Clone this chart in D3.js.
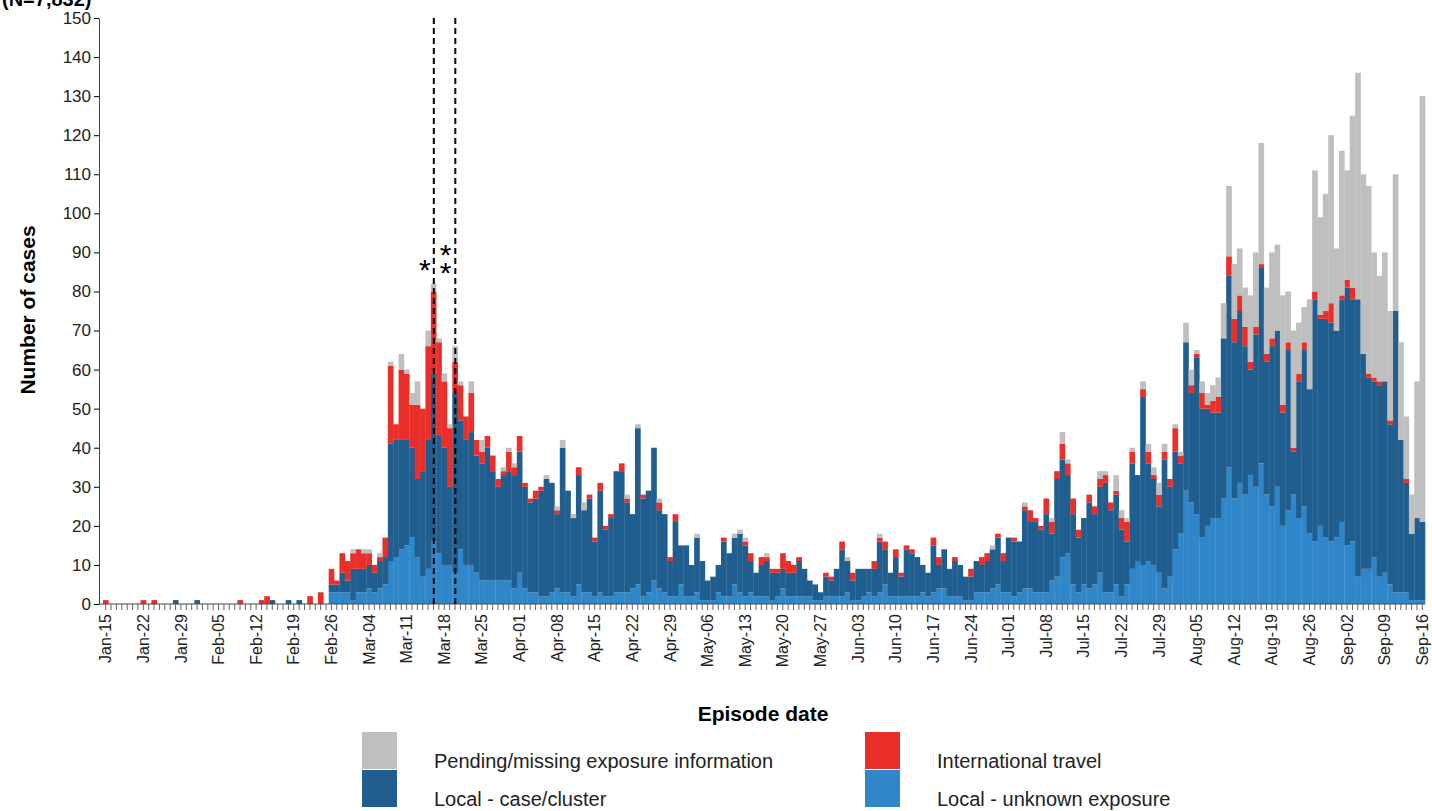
<!DOCTYPE html>
<html>
<head>
<meta charset="utf-8">
<script src="https://cdn.jsdelivr.net/npm/d3@7"></script>
<style>
  body { margin: 0; background: #fff; }
  text { font-family: "Liberation Sans", Arial, sans-serif; }
</style>
</head>
<body>
<svg id="chart" width="1432" height="811"></svg>
<script>
// daily counts, Jan-15 .. Sep-16 (246 days), one row per week, stacked bottom to top
var unknown = [
  0,0,0,0,0,0,0, 0,0,0,0,0,0,0, 0,0,0,0,0,0,0, 0,0,0,0,0,0,0, 0,0,0,0,0,0,0, 0,0,0,0,0,0,0,
  3,3,3,3,1,3,3,
  4,3,4,5,11,12,14,
  15,17,12,7,9,16,13,
  10,10,8,14,10,10,8,
  6,6,6,6,6,6,4,
  8,4,3,3,2,2,3,
  4,3,3,2,5,3,3,
  2,3,2,2,3,3,3,
  4,5,2,3,6,4,3,
  2,2,5,2,2,3,1,
  1,1,3,2,2,5,3,
  2,3,2,2,2,1,2,
  4,2,2,2,2,2,1,
  1,2,2,2,2,3,1,
  1,2,3,2,3,5,2,
  2,2,2,2,2,3,2,
  3,4,4,2,2,2,1,
  1,3,3,3,4,5,3,
  3,2,3,4,4,3,3,
  3,6,7,12,13,5,3,
  5,4,5,8,3,3,5,
  2,5,9,11,10,11,10,
  8,4,7,14,18,29,26,
  23,17,20,22,22,27,35,
  27,31,28,33,30,36,28,
  25,30,20,24,28,22,25,
  18,16,20,17,16,17,21,
  15,16,7,9,9,12,7,
  8,5,3,3,3,1,1,
  1
];
var cluster = [
  0,0,0,0,0,0,0,
  0,0,0,0,0,0,1,
  0,0,0,1,0,0,0,
  0,0,0,0,0,0,0,
  0,0,0,1,0,0,1,
  0,1,0,0,0,0,0,
  2,2,5,3,8,6,6,
  6,5,7,7,30,30,28,
  27,23,20,27,33,43,30,
  30,20,46,33,32,34,30,
  30,34,28,24,27,28,29,
  31,26,23,24,27,30,28,
  19,37,26,20,28,21,24,
  14,26,17,20,31,31,23,
  19,40,25,26,34,20,20,
  9,19,10,13,8,14,10,
  5,6,7,14,11,12,15,
  13,8,6,8,9,7,6,
  5,6,6,9,7,4,4,
  2,5,4,7,12,8,5,
  8,7,6,7,13,9,6,
  10,5,12,11,10,7,6,
  12,6,10,7,9,8,6,
  6,8,7,8,10,12,8,
  14,14,13,20,17,18,16,
  20,12,25,25,20,18,14,
  17,22,18,22,28,21,23,
  17,11,27,22,43,25,22,
  17,33,23,25,18,38,28,
  40,33,30,27,27,41,49,
  40,44,38,27,39,50,34,
  41,40,29,41,11,35,40,
  37,62,53,56,56,53,57,
  66,62,71,55,49,45,49,
  49,41,72,39,28,17,21,
  20
];
var travel = [
  1,0,0,0,0,0,0,
  1,0,1,0,0,0,0,
  0,0,0,0,0,0,0,
  0,0,0,0,1,0,0,
  0,1,2,0,0,0,0,
  0,0,0,2,0,3,0,
  4,1,5,5,4,5,4,
  3,2,1,5,20,4,18,
  17,11,19,16,24,21,24,
  17,15,8,9,6,10,4,
  3,3,4,2,1,5,2,
  4,1,1,2,1,0,0,
  1,0,0,0,2,0,1,
  1,2,1,1,0,2,1,
  0,0,1,0,0,2,0,
  1,2,0,0,0,0,0,
  0,0,0,1,0,0,0,
  1,2,0,2,1,1,1,
  4,3,2,1,0,0,0,
  0,1,1,0,2,0,2,
  0,0,0,2,1,2,0,
  2,1,1,1,0,0,0,
  2,2,0,0,1,0,0,
  2,0,2,2,0,1,2,
  0,1,0,1,3,1,1,
  4,3,2,4,3,4,2,
  0,2,2,2,2,2,1,
  3,5,3,0,2,3,1,
  3,2,2,6,2,0,2,
  1,4,1,3,4,0,5,
  6,4,5,2,2,1,2,
  2,0,2,2,1,2,2,
  0,2,1,2,5,0,1,
  2,3,0,0,1,1,1,
  0,1,0,0,1,0,0,
  0
];
var pending = [
  0,0,0,0,0,0,0, 0,0,0,0,0,0,0, 0,0,0,0,0,0,0, 0,0,0,0,0,0,0, 0,0,0,0,0,0,0, 0,0,0,0,0,0,0,
  0,0,0,0,1,0,1,
  1,0,1,0,1,0,4,
  1,3,6,0,4,2,1,
  2,1,4,1,0,3,0,
  3,0,0,0,1,1,1,
  0,0,0,0,0,1,0,
  1,2,0,1,0,2,0,
  0,0,0,0,0,0,1,
  0,1,0,0,0,1,0,
  0,0,0,0,0,1,0,
  0,0,0,0,0,1,1,
  1,0,0,0,1,0,0,
  0,0,0,0,0,0,0,
  0,0,0,0,0,1,0,
  0,0,0,0,1,0,0,
  0,0,0,0,0,0,0,
  0,0,0,0,0,0,0,
  0,0,0,0,1,0,0,
  0,0,0,1,0,0,0,
  0,1,0,3,1,0,0,
  0,0,0,2,1,0,4,
  2,1,1,0,2,2,2,
  3,2,0,1,1,5,4,
  1,3,3,4,5,9,18,
  14,12,10,17,19,31,17,
  22,22,28,13,30,13,9,
  23,31,25,30,43,21,37,
  28,44,58,46,48,32,27,
  33,28,35,25,16,10,35,
  109
];
var startDate = new Date(2020, 0, 15);
var categories = unknown.map((d, i) => d3.timeDay.offset(startDate, i));

var seriesKeys = ["unknown", "cluster", "travel", "pending"];
var seriesColors = { unknown: "#2f86c8", cluster: "#1f5e8e", travel: "#ea2e2a", pending: "#bfbfbf" };
var yTicks = d3.range(0, 151, 10);
var fmt = d3.timeFormat("%b-%d");

var svg = d3.select("#chart");

var rows = categories.map((d, i) => ({
  date: d, unknown: unknown[i], cluster: cluster[i], travel: travel[i], pending: pending[i]
}));

var x = d3.scaleBand().domain(d3.range(categories.length)).range([103, 1425]).paddingInner(0);
var y = d3.scaleLinear().domain([0, 150]).range([604, 18]);

var stack = d3.stack().keys(seriesKeys)(rows);

svg.append("g").selectAll("g").data(stack).join("g")
  .attr("fill", s => seriesColors[s.key])
  .selectAll("rect").data(s => s.map((v, i) => [v, i])).join("rect")
  .attr("x", d => x(d[1]))
  .attr("width", x.bandwidth() + 0.3)
  .attr("y", d => y(d[0][1]))
  .attr("height", d => y(d[0][0]) - y(d[0][1]));

// y axis
var yAxis = svg.append("g").attr("transform", "translate(99,0)")
  .call(d3.axisLeft(y).tickValues(yTicks).tickSize(5).tickSizeOuter(0));
yAxis.selectAll("text").attr("font-size", 17).attr("fill", "#222");
yAxis.select(".domain").attr("stroke", "#444");

// x axis: a tick per day, label each week
var xAxis = svg.append("g").attr("transform", "translate(0,604)")
  .call(d3.axisBottom(x).tickSize(6).tickSizeOuter(0)
    .tickFormat(i => i % 7 === 0 ? fmt(categories[i]) : ""));
xAxis.select(".domain").attr("stroke", "#444").attr("d", "M99,0H1425");
xAxis.selectAll(".tick line").attr("stroke", "#666");
xAxis.selectAll("text")
  .attr("font-size", 16).attr("fill", "#222")
  .attr("transform", "rotate(-90)")
  .attr("text-anchor", "end")
  .attr("x", -10).attr("y", 0).attr("dy", "0.35em");

// vertical reference lines
var marks = [61, 65];
svg.selectAll(".ref").data(marks).join("line")
  .attr("x1", d => x(d) + 3).attr("x2", d => x(d) + 3)
  .attr("y1", 18).attr("y2", 604)
  .attr("stroke", "#000").attr("stroke-width", 2).attr("stroke-dasharray", "6,4");
svg.append("text").attr("x", x(61) - 6).attr("y", 280).attr("text-anchor", "middle")
  .attr("font-size", 30).text("*");
var dbl = svg.append("text").attr("text-anchor", "middle").attr("font-size", 30);
dbl.append("tspan").attr("x", x(63) + 4).attr("y", 265).text("*");
dbl.append("tspan").attr("x", x(63) + 4).attr("y", 283).text("*");

// titles
svg.append("text").attr("x", 2).attr("y", 6).attr("font-size", 20).attr("font-weight", "bold")
  .text("(N=7,832)");
svg.append("text").attr("transform", "translate(35,310) rotate(-90)")
  .attr("text-anchor", "middle").attr("font-size", 21).attr("font-weight", "bold")
  .text("Number of cases");
svg.append("text").attr("x", 763).attr("y", 721).attr("text-anchor", "middle")
  .attr("font-size", 21).attr("font-weight", "bold").text("Episode date");

// legend
var legend = [
  { key: "pending", label: "Pending/missing exposure information", x: 362, y: 732 },
  { key: "cluster", label: "Local - case/cluster", x: 362, y: 770 },
  { key: "travel", label: "International travel", x: 865, y: 732 },
  { key: "unknown", label: "Local - unknown exposure", x: 865, y: 770 }
];
var lg = svg.append("g").selectAll("g").data(legend).join("g");
lg.append("rect").attr("x", d => d.x).attr("y", d => d.y).attr("width", 35).attr("height", 37)
  .attr("fill", d => seriesColors[d.key]);
lg.append("text").attr("x", d => d.x + 72).attr("y", d => d.y + 36).attr("font-size", 20)
  .attr("fill", "#222").text(d => d.label);
</script>
</body>
</html>
